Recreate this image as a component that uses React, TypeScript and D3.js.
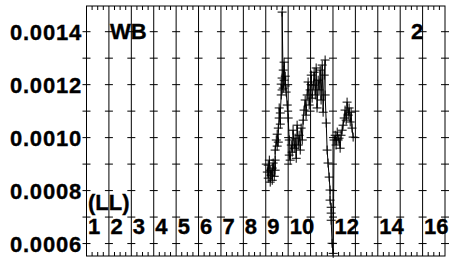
import React from "react";
import * as d3 from "d3";

const xValues = [
  9.07, 9.11, 9.11, 9.16, 9.2, 9.2, 9.24, 9.29, 9.29, 9.33, 9.38, 9.42, 9.42, 9.42, 9.47, 9.51, 9.51, 9.56, 9.56, 9.6,
  9.6, 9.65, 9.65, 9.69, 9.69, 9.73, 9.73, 9.73, 9.78, 9.78, 9.82, 9.82, 9.87, 9.87, 9.91, 9.96, 10.0, 10.05, 10.05, 10.09,
  10.14, 10.18, 10.22, 10.27, 10.31, 10.36, 10.4, 10.45, 10.49, 10.54, 10.58, 10.63, 10.67, 10.71, 10.76, 10.8, 10.85, 10.89, 10.94, 10.98,
  11.03, 11.07, 11.12, 11.16, 11.21, 11.25, 11.29, 11.34, 11.38, 11.43, 11.47, 11.52, 11.56, 11.61, 11.65, 11.65, 11.7, 11.74, 11.78, 11.83,
  11.87, 11.87, 11.92, 11.92, 11.92, 11.96, 12.01, 12.05, 12.1, 12.14, 12.19, 12.23, 12.27, 12.32, 12.36, 12.41, 12.45, 12.5, 12.54, 12.59,
  12.63, 12.68, 12.72, 12.77, 12.81, 12.85, 12.9,
];

const yValues = [
  0.00087, 0.000896, 0.000847, 0.000915, 0.000832, 0.000877, 0.000858, 0.000885, 0.000839, 0.000904, 0.000854, 0.000915, 0.000877, 0.000953, 0.000991, 0.000968, 0.001013, 0.000983, 0.001036, 0.001074,
  0.001112, 0.001051, 0.001093, 0.001161, 0.001202, 0.00118, 0.001225, 0.001474, 0.001187, 0.001255, 0.001217, 0.001285, 0.001195, 0.001232, 0.001172, 0.001123, 0.001074, 0.000991, 0.000934, 0.000915,
  0.000972, 0.000945, 0.001028, 0.00096, 0.000998, 0.000922, 0.001047, 0.000972, 0.001009, 0.000953, 0.001036, 0.000991, 0.001066, 0.001104, 0.001142, 0.001085, 0.001161, 0.00121, 0.001123, 0.00118,
  0.001236, 0.001149, 0.001198, 0.001247, 0.001161, 0.001263, 0.001112, 0.001217, 0.00118, 0.001255, 0.001142, 0.001274, 0.001096, 0.001236, 0.001293, 0.001161, 0.001055, 0.000953, 0.000904, 0.000851,
  0.000802, 0.000764, 0.000737, 0.000715, 0.000688, 0.000601, 0.000563, 0.000991, 0.001009, 0.000972, 0.001021, 0.000991, 0.000998, 0.00096, 0.001009, 0.001028, 0.001047, 0.001074, 0.001104, 0.001066,
  0.001134, 0.001085, 0.001112, 0.001059, 0.001096, 0.001036, 0.001002,
];

const yTickValues = [0.0006, 0.0007, 0.0008, 0.0009, 0.001, 0.0011, 0.0012, 0.0013, 0.0014];
const yLabelValues = [0.0006, 0.0008, 0.001, 0.0012, 0.0014];
const yLabelTexts = ["0.0006", "0.0008", "0.0010", "0.0012", "0.0014"];
const xLineValues = [2, 3, 4, 5, 6, 7, 8, 9, 10, 11, 12, 13, 14, 15, 16];
const xLabelValues = [1, 2, 3, 4, 5, 6, 7, 8, 9, 10, 12, 14, 16];
const xDomain = [1, 17];
const yDomain = [0.000553, 0.001497];

export default function App() {
  const W = 453;
  const H = 262;
  const L = 86.5, R = 445, T = 6, B = 256;
  const x = d3.scaleLinear().domain(xDomain).range([L, R]);
  const y = d3.scaleLinear().domain(yDomain).range([B, T]);
  const pts = xValues.map((v, i) => [v, yValues[i]] as [number, number]);
  const line = d3.line<[number, number]>().x((d) => x(d[0])).y((d) => y(d[1]));
  const allLines = [xDomain[0], ...xLineValues, xDomain[1]];
  const minor = d3.range(xDomain[0], xDomain[1] + 0.001, 0.25).filter((v) => Math.abs(v - Math.round(v)) > 0.01);
  const font = "'Liberation Sans', Arial, Helvetica, sans-serif";
  return (
    <svg width={W} height={H} style={{ position: "absolute", left: 0, top: 0, background: "#fff" }}>
      <rect x={0} y={0} width={W} height={H} fill="#fff" />
      {xLineValues.map((v) => (
        <line key={"v" + v} x1={x(v)} x2={x(v)} y1={T} y2={B} stroke="#000" strokeWidth={1} />
      ))}
      {allLines.map((v) =>
        yTickValues.map((t) => (
          <line key={"h" + v + "_" + t} x1={x(v) - 4} x2={x(v) + 4} y1={y(t)} y2={y(t)} stroke="#000" strokeWidth={1} />
        ))
      )}
      {minor.map((v) => (
        <g key={"m" + v}>
          <line x1={x(v)} x2={x(v)} y1={T} y2={T + 4} stroke="#000" />
          <line x1={x(v)} x2={x(v)} y1={B} y2={B - 4} stroke="#000" />
        </g>
      ))}
      <rect x={L} y={T} width={R - L} height={B - T} fill="none" stroke="#000" strokeWidth={1} />
      <path d={line(pts) || ""} fill="none" stroke="#000" strokeWidth={1} />
      {pts.map((p, i) => (
        <g key={"p" + i}>
          <line x1={x(p[0]) - 4.5} x2={x(p[0]) + 4.5} y1={y(p[1])} y2={y(p[1])} stroke="#000" />
          <line x1={x(p[0])} x2={x(p[0])} y1={y(p[1]) - 4.5} y2={y(p[1]) + 4.5} stroke="#000" />
        </g>
      ))}
      <g fontFamily={font} fontWeight="bold" fontSize={22} fill="#000" stroke="#000" strokeWidth={0.35}>
        {yLabelValues.map((v, i) => (
          <text key={"yl" + v} x={82} y={y(v) + 8.5} textAnchor="end" letterSpacing={0.8}>
            {yLabelTexts[i]}
          </text>
        ))}
        {xLabelValues.map((v) => (
          <text key={"xl" + v} x={x(v) + 1.5} y={233.5}>
            {String(v)}
          </text>
        ))}
        <text x={88} y={210}>(LL)</text>
        <text x={110} y={38.5}>WB</text>
        <text x={411} y={38.5}>2</text>
      </g>
    </svg>
  );
}
